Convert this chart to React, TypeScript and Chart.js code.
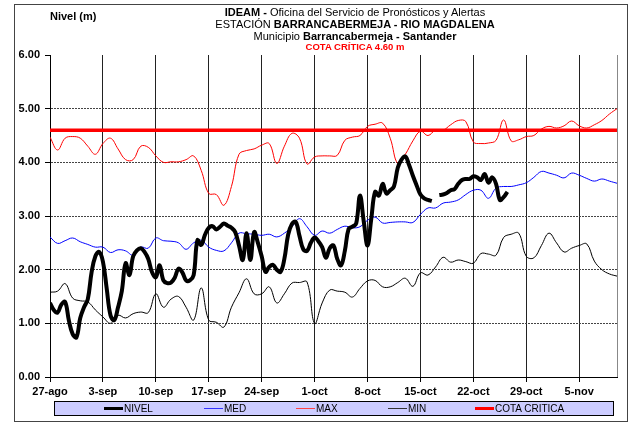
import React, { useEffect, useRef } from 'react';
import { Chart, registerables } from 'chart.js';

Chart.register(...registerables);

const FONT = "'Liberation Sans', Arial, sans-serif";

// x tick labels, one every 7 days starting 27-ago (day 0); axis ends at day 75
const xTickLabels = ['27-ago', '3-sep', '10-sep', '17-sep', '24-sep', '1-oct', '8-oct', '15-oct', '22-oct', '29-oct', '5-nov'];
const lastDay = 75;
const yTicks = [0, 1, 2, 3, 4, 5, 6];

// NIVEL: two readings per day (index k -> day k/2)
const nivel: (number | null)[] = [
  1.38, 1.25, 1.2, 1.35, 1.4, 1.05, 0.8, 0.74, 1.1, 1.3,
  1.45, 1.95, 2.25, 2.33, 2.15, 1.65, 1.15, 1.06, 1.3, 1.6,
  2.12, 1.9, 2.25, 2.36, 2.4, 2.33, 2.2, 1.95, 1.86, 2.08,
  1.8, 1.75, 1.76, 1.85, 2.02, 1.95, 1.8, 1.8, 1.9, 2.55,
  2.46, 2.65, 2.78, 2.81, 2.75, 2.8, 2.86, 2.82, 2.78, 2.7,
  2.45, 2.18, 2.68, 2.18, 2.7, 2.5, 2.25, 1.96, 2.05, 2.09,
  2.0, 1.96, 2.2, 2.65, 2.85, 2.89, 2.63, 2.38, 2.35, 2.5,
  2.6, 2.53, 2.42, 2.22, 2.4, 2.45, 2.2, 2.08, 2.35, 2.76,
  2.8, 2.86, 3.38, 2.9, 2.45, 2.95, 3.45, 3.38, 3.6, 3.42,
  3.48, 3.55, 3.9, 4.05, 4.11, 3.95, 3.75, 3.57, 3.4, 3.33,
  3.3, 3.28, null, 3.39, 3.4, 3.43, 3.48, 3.5, 3.6, 3.67,
  3.69, 3.69, 3.74, 3.72, 3.67, 3.78, 3.62, 3.72, 3.6, 3.3,
  3.35, 3.45,
];

// daily series, day 0 .. 75
const med = [
  2.61, 2.49, 2.54, 2.59, 2.52, 2.47, 2.42, 2.42, 2.32, 2.37,
  2.35, 2.27, 2.42, 2.4, 2.59, 2.54, 2.53, 2.5, 2.38, 2.5,
  2.55, 2.42, 2.36, 2.35, 2.5, 2.68, 2.67, 2.66, 2.64, 2.66,
  2.61, 2.68, 2.8, 2.95, 2.8, 2.64, 2.72, 2.68, 2.75, 2.81,
  2.78, 2.8, 2.92, 2.98, 2.87, 2.88, 2.89, 2.89, 2.88, 3.03,
  3.15, 3.15, 3.24, 3.26, 3.3, 3.4, 3.48, 3.48, 3.33, 3.52,
  3.55, 3.55, 3.58, 3.62, 3.72, 3.83, 3.8, 3.76, 3.71, 3.8,
  3.76, 3.7, 3.65, 3.69, 3.65, 3.61,
];

const maxi = [
  4.47, 4.23, 4.45, 4.48, 4.45, 4.3, 4.15, 4.35, 4.45, 4.25,
  4.05, 4.05, 4.3, 4.28, 4.12, 4.0, 4.01, 4.01, 4.05, 4.12,
  3.85, 3.42, 3.4, 3.2, 3.55, 4.15, 4.22, 4.25, 4.32, 4.35,
  3.98, 4.3, 4.54, 4.45, 3.97, 4.1, 4.12, 4.12, 4.13, 4.41,
  4.47, 4.5, 4.67, 4.71, 4.73, 4.45, 3.98, 4.15, 4.4, 4.58,
  4.5, 4.6, 4.6, 4.7, 4.78, 4.76, 4.38, 4.35, 4.36, 4.41,
  4.79, 4.4, 4.42, 4.48, 4.5, 4.62, 4.67, 4.64, 4.68, 4.77,
  4.68, 4.64, 4.7, 4.78, 4.9, 5.0,
];

const mini = [
  1.58, 1.6, 1.74, 1.47, 1.42, 1.4, 1.25, 1.12, 1.0, 1.15,
  1.1, 1.18, 1.21, 1.2, 1.55, 1.3, 1.45, 1.5, 1.3, 1.06,
  1.66, 1.06, 1.02, 0.93, 1.3, 1.57, 1.83, 1.55, 1.55, 1.68,
  1.38, 1.55, 1.75, 1.76, 1.77, 1.0, 1.38, 1.62, 1.6, 1.58,
  1.49, 1.65, 1.79, 1.8, 1.68, 1.68, 1.76, 1.84, 1.69, 1.94,
  1.9, 2.05, 2.23, 2.14, 2.18, 2.15, 2.12, 2.3, 2.29, 2.27,
  2.6, 2.66, 2.68, 2.25, 2.22, 2.45, 2.68, 2.5, 2.33, 2.4,
  2.45, 2.48, 2.16, 2.0, 1.92, 1.88,
];

const cotaCritica = 4.6;

const legendItems = [
  { label: 'NIVEL', color: '#000000', width: 3, left: 104 },
  { label: 'MED', color: '#3333ff', width: 1, left: 204 },
  { label: 'MAX', color: '#ff4444', width: 1, left: 296 },
  { label: 'MIN', color: '#333333', width: 1.5, left: 388 },
  { label: 'COTA CRITICA', color: '#ff0000', width: 3, left: 475 },
];

export default function App() {
  const canvasRef = useRef<HTMLCanvasElement | null>(null);

  useEffect(() => {
    const canvas = canvasRef.current;
    if (!canvas) return;
    const daily = (arr: number[]) => arr.map((y, i) => ({ x: i, y }));
    const chart = new Chart(canvas, {
      type: 'line',
      data: {
        datasets: [
          {
            label: 'NIVEL',
            data: nivel.map((y, k) => ({ x: k / 2, y })),
            borderColor: '#000000',
            borderWidth: 4,
            tension: 0.4,
            pointRadius: 0,
            spanGaps: false,
            borderCapStyle: 'butt',
            borderJoinStyle: 'round',
          },
          {
            label: 'MED',
            data: daily(med),
            borderColor: '#0000ff',
            borderWidth: 1,
            tension: 0.4,
            pointRadius: 0,
          },
          {
            label: 'MAX',
            data: daily(maxi),
            borderColor: '#ff0000',
            borderWidth: 1,
            tension: 0.4,
            pointRadius: 0,
          },
          {
            label: 'MIN',
            data: daily(mini),
            borderColor: '#000000',
            borderWidth: 1,
            tension: 0.4,
            pointRadius: 0,
          },
          {
            label: 'COTA CRITICA',
            data: [{ x: 0, y: cotaCritica }, { x: lastDay, y: cotaCritica }],
            borderColor: '#ff0000',
            borderWidth: 3.5,
            tension: 0,
            pointRadius: 0,
          },
        ],
      },
      options: {
        responsive: false,
        maintainAspectRatio: false,
        animation: false,
        layout: { padding: { left: 0, top: 55, right: 23, bottom: 15 } },
        plugins: {
          legend: { display: false },
          title: { display: false },
          tooltip: { enabled: false },
        },
        elements: { point: { radius: 0 } },
        scales: {
          x: {
            type: 'linear',
            min: 0,
            max: lastDay,
            afterBuildTicks: (scale: any) => {
              scale.ticks = [...xTickLabels.map((_, i) => ({ value: i * 7 })), { value: lastDay }];
            },
            afterFit: (scale: any) => {
              scale.height = 30;
            },
            ticks: {
              autoSkip: false,
              maxRotation: 0,
              minRotation: 0,
              padding: 3,
              color: '#000',
              font: { family: FONT, size: 11, weight: 'bold' },
              callback: (v: any) => {
                const i = Number(v) / 7;
                return Number.isInteger(i) && xTickLabels[i] ? xTickLabels[i] : '';
              },
            },
            grid: {
              color: (c: any) => (c.tick && c.tick.value === lastDay ? '#888888' : '#222222'),
              tickColor: (c: any) => (c.tick && c.tick.value === lastDay ? 'rgba(0,0,0,0)' : '#000000'),
              tickLength: 5,
              lineWidth: 1,
            },
            border: { display: true, color: '#000', width: 1 },
          },
          y: {
            type: 'linear',
            min: 0,
            max: 6,
            afterBuildTicks: (scale: any) => {
              scale.ticks = yTicks.map((v) => ({ value: v }));
            },
            afterFit: (scale: any) => {
              scale.width = 50;
            },
            ticks: {
              padding: 5,
              color: '#000',
              font: { family: FONT, size: 11, weight: 'bold' },
              callback: (v: any) => Number(v).toFixed(2),
            },
            grid: {
              color: (c: any) => (c.tick && (c.tick.value === 6 || c.tick.value === 0) ? 'rgba(0,0,0,0)' : '#444444'),
              tickColor: '#000000',
              tickLength: 5,
              lineWidth: 1,
            },
            border: { display: true, color: '#000', width: 1, dash: [2, 1] },
          },
        },
      } as any,
    });
    return () => chart.destroy();
  }, []);

  const line: React.CSSProperties = {
    position: 'absolute',
    left: 155,
    width: 400,
    textAlign: 'center',
    whiteSpace: 'nowrap',
    fontSize: 11,
    lineHeight: '12px',
    color: '#000',
  };

  return (
    <div
      style={{
        position: 'fixed',
        left: 0,
        top: 0,
        width: 640,
        height: 422,
        background: '#fff',
        overflow: 'hidden',
        fontFamily: FONT,
      }}
    >
      <canvas ref={canvasRef} width={640} height={422} style={{ position: 'absolute', left: 0, top: 0, width: 640, height: 422 }} />
      <div
        style={{
          position: 'absolute',
          left: 14,
          top: 4,
          width: 614,
          height: 418,
          boxSizing: 'border-box',
          border: '1px solid #444',
          pointerEvents: 'none',
        }}
      />
      <div style={{ position: 'absolute', left: 50, top: 10, fontSize: 11, lineHeight: '12px', fontWeight: 'bold', whiteSpace: 'nowrap' }}>
        Nivel (m)
      </div>
      <div style={{ ...line, top: 6 }}>
        <b>IDEAM -</b> Oficina del Servicio de Pronósticos y Alertas
      </div>
      <div style={{ ...line, top: 18 }}>
        ESTACIÓN <b>BARRANCABERMEJA - RIO MAGDALENA</b>
      </div>
      <div style={{ ...line, top: 30 }}>
        Municipio <b>Barrancabermeja - Santander</b>
      </div>
      <div style={{ ...line, top: 41, fontSize: 9.5, fontWeight: 'bold', color: '#ff0000' }}>
        COTA CRÍTICA 4.60 m
      </div>
      <div
        style={{
          position: 'absolute',
          left: 54,
          top: 401,
          width: 560,
          height: 15,
          boxSizing: 'border-box',
          border: '1px solid #000',
          background: '#ccccff',
        }}
      />
      {legendItems.map((it) => (
        <React.Fragment key={it.label}>
          <div
            style={{
              position: 'absolute',
              left: it.left,
              top: 408.5 - it.width / 2,
              width: 19,
              height: it.width,
              background: it.color,
            }}
          />
          <div
            style={{
              position: 'absolute',
              left: it.left + 20,
              top: 402,
              fontSize: 10,
              lineHeight: '13px',
              whiteSpace: 'nowrap',
              color: '#000',
            }}
          >
            {it.label}
          </div>
        </React.Fragment>
      ))}
    </div>
  );
}
